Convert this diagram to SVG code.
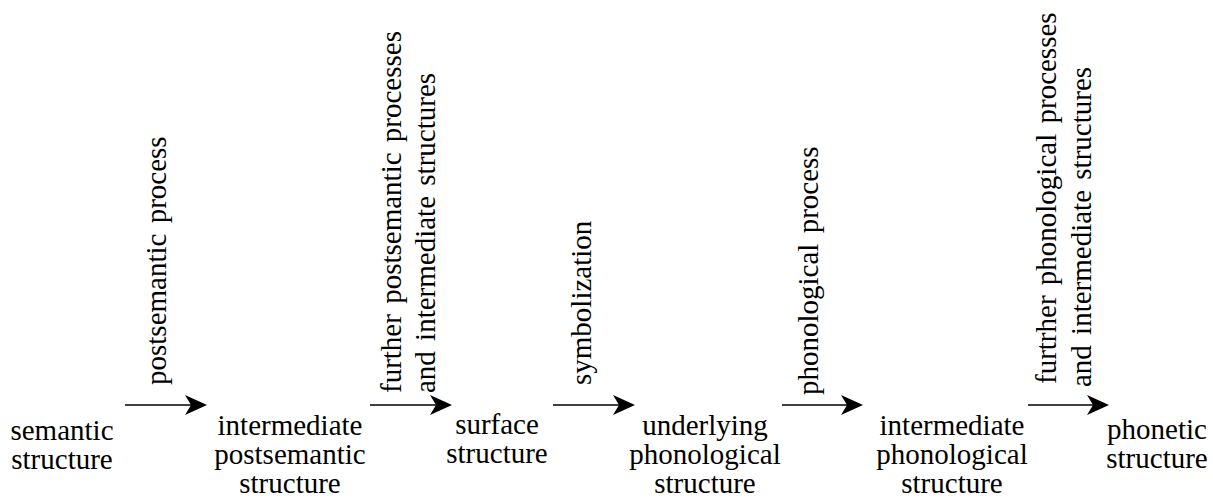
<svg xmlns="http://www.w3.org/2000/svg" width="1213" height="498" viewBox="0 0 1213 498">
<style>
text{font-size:29px;fill:#000}
.n{text-anchor:middle}
.v{text-anchor:start;word-spacing:3px}
.c line{stroke:#000;stroke-width:1.4;fill:none}
</style>
<defs>
<marker id="ah" viewBox="0 0 22 20" refX="14" refY="10" markerWidth="22" markerHeight="20" markerUnits="userSpaceOnUse" orient="auto">
<path d="M0,0 L22,10 L0,20 L6,10 Z" fill="#000"/>
</marker>
</defs>
<g font-family="Liberation Serif, Tinos, DejaVu Serif, serif">
<g id="n1"><text class="n" x="62" y="440">semantic</text><text class="n" x="62" y="469">structure</text></g>
<g id="n2"><text class="n" x="290" y="435">intermediate</text><text class="n" x="290" y="464">postsemantic</text><text class="n" x="290" y="493">structure</text></g>
<g id="n3"><text class="n" x="497" y="434">surface</text><text class="n" x="497" y="463">structure</text></g>
<g id="n4"><text class="n" x="705" y="435">underlying</text><text class="n" x="705" y="464">phonological</text><text class="n" x="705" y="493">structure</text></g>
<g id="n5"><text class="n" x="952" y="435">intermediate</text><text class="n" x="952" y="464">phonological</text><text class="n" x="952" y="493">structure</text></g>
<g id="n6"><text class="n" x="1157" y="439">phonetic</text><text class="n" x="1157" y="468">structure</text></g>
<g id="labels">
<text class="v" transform="translate(166,385) rotate(-90)">postsemantic process</text>
<text class="v" transform="translate(401,393) rotate(-90)">further postsemantic processes</text>
<text class="v" transform="translate(435,393) rotate(-90)">and intermediate structures</text>
<text class="v" transform="translate(591,385) rotate(-90)">symbolization</text>
<text class="v" transform="translate(818,395) rotate(-90)">phonological process</text>
<text class="v" transform="translate(1056,384) rotate(-90)">furtrher phonological processes</text>
<text class="v" transform="translate(1091,387) rotate(-90)">and intermediate structures</text>
</g>
</g>
<g id="connectors" class="c">
<line x1="125" y1="405" x2="199" y2="405" marker-end="url(#ah)"/>
<line x1="370" y1="405" x2="444" y2="405" marker-end="url(#ah)"/>
<line x1="553" y1="405" x2="627" y2="405" marker-end="url(#ah)"/>
<line x1="782" y1="405" x2="855" y2="405" marker-end="url(#ah)"/>
<line x1="1028" y1="405" x2="1101" y2="405" marker-end="url(#ah)"/>
</g>
</svg>
